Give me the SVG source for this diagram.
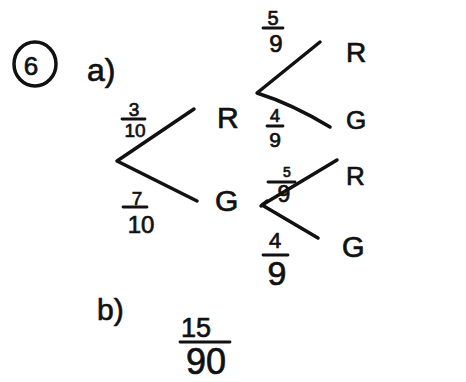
<svg xmlns="http://www.w3.org/2000/svg" width="466" height="382" viewBox="0 0 466 382">
<style>
.t{font-family:"Liberation Sans","DejaVu Sans",sans-serif;fill:#111;stroke:#111;stroke-width:0.7;}
.c{stroke:#111;stroke-width:3.5;fill:none;stroke-linecap:round;stroke-linejoin:round;}
.bar{stroke:#111;stroke-width:2.8;stroke-linecap:round;}
</style>
<rect width="466" height="382" fill="#fff"/>
<g id="q6">
<ellipse cx="35" cy="64" rx="21" ry="22" class="c" stroke-width="3"/>
<text x="31" y="75" class="t" font-size="26" text-anchor="middle">6</text>
</g>
<g id="parta"><text x="87" y="81" class="t" font-size="32">a)</text></g>
<g id="connectors">
<path class="c" d="M194,109 L117,161 L197,201"/>
<path class="c" d="M320,42 L257,93 Q292,104 330,127"/>
<path class="c" d="M337,160 L262,205 L318,238"/>
<path class="c" d="M261,206 L267,201"/>
</g>
<g id="R1"><text x="217" y="128" class="t" font-size="30">R</text></g>
<g id="G1"><text x="215" y="211" class="t" font-size="30">G</text></g>
<g id="RR"><text x="346" y="62" class="t" font-size="28">R</text></g>
<g id="RG"><text x="346" y="129" class="t" font-size="26">G</text></g>
<g id="GR"><text x="346" y="185" class="t" font-size="26">R</text></g>
<g id="GG"><text x="342" y="257" class="t" font-size="29">G</text></g>
<g id="p310">
<text x="134" y="116" class="t" font-size="19" text-anchor="middle">3</text>
<line x1="122" y1="119" x2="145" y2="119" class="bar"/>
<text x="135" y="137" class="t" font-size="19" text-anchor="middle">10</text>
</g>
<g id="p710">
<text x="137" y="205" class="t" font-size="19" text-anchor="middle">7</text>
<line x1="123" y1="207" x2="147" y2="207" class="bar"/>
<text x="141" y="233" class="t" font-size="24" text-anchor="middle">10</text>
</g>
<g id="p59a">
<text x="273" y="25" class="t" font-size="20" text-anchor="middle">5</text>
<line x1="263" y1="28" x2="283" y2="28" class="bar"/>
<text x="276" y="52" class="t" font-size="24" text-anchor="middle">9</text>
</g>
<g id="p49a">
<text x="275" y="122" class="t" font-size="18" text-anchor="middle">4</text>
<line x1="267" y1="126" x2="283" y2="126" class="bar"/>
<text x="275" y="147" class="t" font-size="21" text-anchor="middle">9</text>
</g>
<g id="p59b">
<text x="287" y="177" class="t" font-size="14" text-anchor="middle">5</text>
<line x1="268" y1="182" x2="295" y2="182" class="bar"/>
<text x="284" y="202" class="t" font-size="23" text-anchor="middle">9</text>
</g>
<g id="p49b">
<text x="275" y="248" class="t" font-size="22" text-anchor="middle">4</text>
<line x1="263" y1="255" x2="288" y2="255" class="bar"/>
<text x="277" y="285" class="t" font-size="34" text-anchor="middle">9</text>
</g>
<g id="partb"><text x="97" y="320" class="t" font-size="30">b)</text></g>
<g id="ans">
<text x="196" y="337" class="t" font-size="27" text-anchor="middle">15</text>
<line x1="180" y1="342" x2="230" y2="342" class="bar"/>
<text x="206" y="374" class="t" font-size="36" text-anchor="middle">90</text>
</g>
</svg>
